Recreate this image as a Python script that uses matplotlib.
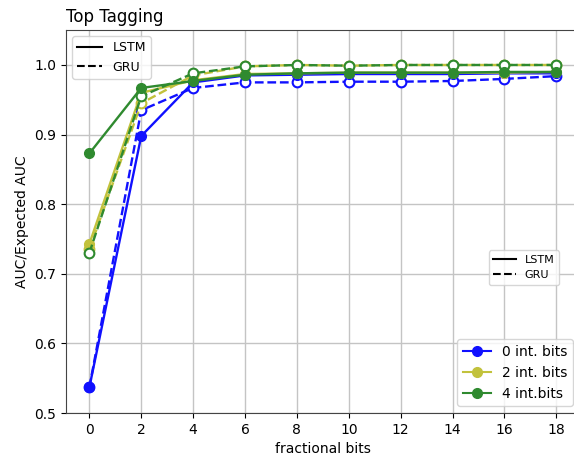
import numpy as np
from matplotlib import pyplot as plt
from matplotlib.lines import Line2D

# fractional bits on x axis
frac_bits = [0, 2, 4, 6, 8, 10, 12, 14, 16, 18]

# 0 integer bits
lstm_0 = [0.537, 0.898, 0.975, 0.985, 0.986, 0.987, 0.987, 0.987, 0.988, 0.988]
gru_0 = [0.537, 0.935, 0.967, 0.975, 0.975, 0.976, 0.976, 0.977, 0.980, 0.984]
# 2 integer bits
lstm_2 = [0.743, 0.960, 0.978, 0.987, 0.988, 0.989, 0.989, 0.989, 0.989, 0.990]
gru_2 = [0.735, 0.945, 0.985, 0.998, 1.000, 0.999, 1.000, 1.000, 1.000, 1.000]
# 4 integer bits
lstm_4 = [0.873, 0.967, 0.977, 0.986, 0.988, 0.989, 0.989, 0.989, 0.990, 0.990]
gru_4 = [0.730, 0.955, 0.988, 0.998, 1.000, 0.999, 1.000, 1.000, 1.000, 1.000]

labels = ['0 int. bits', '2 int. bits', '4 int.bits']
colors = ['#1010ff', '#c2c23c', '#2f8a2f']

fig = plt.figure(figsize=(5.74, 4.57), dpi=100)
ax = fig.add_axes([0.115, 0.096, 0.895, 0.838])

for lstm, gru, c in zip([lstm_0, lstm_2, lstm_4], [gru_0, gru_2, gru_4], colors):
    ax.plot(frac_bits, gru, linestyle='--', color=c, marker='o', markersize=7,
            markerfacecolor='white', markeredgewidth=1.5, linewidth=1.7)
    ax.plot(frac_bits, lstm, linestyle='-', color=c, marker='o', markersize=7,
            linewidth=1.7)

ax.set_xticks(np.arange(0, 19, 2))
ax.set_ylim(0.5, 1.05)
ax.set_xlim(-0.9, 18.9)
ax.grid(True, color='#c4c4c4', linewidth=1)
ax.set_axisbelow(True)
for sp in ax.spines.values():
    sp.set_color('#444444')
# right edge is cut off in the original picture
ax.spines['right'].set_visible(False)
ax.set_xlabel('fractional bits')
ax.set_ylabel('AUC/Expected AUC')
ax.set_title('Top Tagging', loc='left', fontsize=12)

# style legends
style_handles = [Line2D([], [], color='black', linestyle='-'),
                 Line2D([], [], color='black', linestyle='--')]
leg1 = ax.legend(style_handles, ['LSTM', 'GRU'], loc='upper left', fontsize=9)
ax.add_artist(leg1)
leg2 = ax.legend(style_handles, ['LSTM', 'GRU'], loc='center right', fontsize=8,
                 bbox_to_anchor=(0.97, 0.38))
ax.add_artist(leg2)

color_handles = [Line2D([], [], color=c, marker='o', markersize=7) for c in colors]
ax.legend(color_handles, labels, loc='lower right', fontsize=10)

plt.savefig('out.png', dpi=100)
